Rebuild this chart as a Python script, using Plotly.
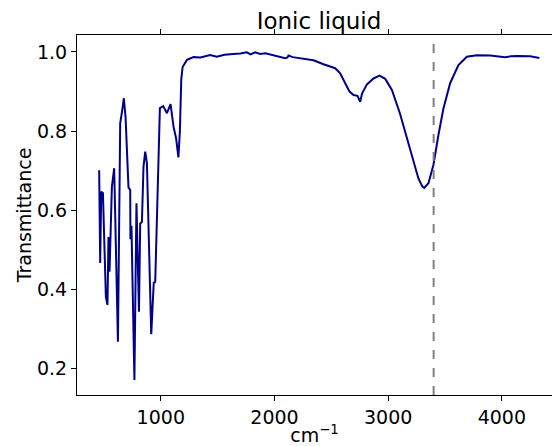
import plotly.graph_objects as go

wavenumber = [458, 467, 476, 491, 517, 531, 540, 549, 570, 590, 623, 643, 661, 675, 690,
              716, 731, 733, 742, 768, 786, 808, 819, 834, 848, 863, 878, 916, 938, 951,
              992, 1021, 1054, 1086, 1112, 1135, 1155, 1168, 1180, 1192, 1230, 1288, 1347,
              1434, 1493, 1560, 1639, 1700, 1757, 1790, 1830, 1874, 1920, 1962, 2050, 2094,
              2114, 2123, 2160, 2226, 2343, 2431, 2534, 2578, 2600, 2622, 2660, 2695, 2730,
              2754, 2770, 2813, 2871, 2924, 2974, 3033, 3105, 3164, 3222, 3266, 3300, 3317,
              3354, 3398, 3442, 3486, 3545, 3618, 3692, 3780, 3897, 3950, 4029, 4080, 4132,
              4249, 4330]
transmittance = [0.701, 0.466, 0.646, 0.643, 0.380, 0.360, 0.532, 0.444, 0.659, 0.706,
                 0.267, 0.820, 0.853, 0.883, 0.836, 0.657, 0.651, 0.526, 0.560, 0.170,
                 0.617, 0.343, 0.566, 0.570, 0.710, 0.748, 0.718, 0.286, 0.416, 0.418,
                 0.858, 0.863, 0.845, 0.868, 0.811, 0.781, 0.733, 0.800, 0.930, 0.962,
                 0.980, 0.987, 0.986, 0.992, 0.988, 0.993, 0.995, 0.996, 0.999, 0.994,
                 0.999, 0.995, 0.997, 0.994, 0.988, 0.984, 0.986, 0.991, 0.987, 0.984,
                 0.979, 0.969, 0.959, 0.946, 0.935, 0.921, 0.900, 0.891, 0.889, 0.874,
                 0.895, 0.918, 0.933, 0.940, 0.932, 0.904, 0.843, 0.782, 0.727, 0.680,
                 0.660, 0.656, 0.668, 0.714, 0.790, 0.857, 0.921, 0.967, 0.988, 0.992,
                 0.991, 0.990, 0.987, 0.989, 0.990, 0.989, 0.985]
marker_line = 3400
title_text = "Ionic liquid"
x_ticks = [1000, 2000, 3000, 4000]
y_ticks = [0.2, 0.4, 0.6, 0.8, 1.0]

FONT = "DejaVu Sans"
FS = 19
TFS = 23

fig = go.Figure()
fig.add_trace(go.Scatter(x=wavenumber, y=transmittance, mode="lines",
                         line=dict(color="#00008b", width=2), showlegend=False))
fig.add_shape(type="line", x0=marker_line, x1=marker_line, xref="x", yref="paper",
              y0=0, y1=1, line=dict(color="gray", width=2, dash="dash"))

fig.update_layout(
    width=552, height=446,
    margin=dict(l=77, r=0, t=35, b=51),
    paper_bgcolor="white", plot_bgcolor="white",
    font=dict(family=FONT, size=FS, color="black"),
    title=dict(text=title_text, x=319 / 552, xref="container", xanchor="center",
               y=1 - 21 / 446, yref="container", yanchor="middle",
               font=dict(family=FONT, size=TFS, color="black")),
)
fig.update_xaxes(range=[263, 4441], tickvals=x_ticks, ticktext=[str(v) for v in x_ticks],
                 showline=True, linecolor="black", linewidth=1, mirror="ticks",
                 ticks="outside", ticklen=5, tickwidth=1, tickcolor="black",
                 showgrid=False, zeroline=False,
                 tickfont=dict(family=FONT, size=FS),
                 title=dict(text="cm<sup>−1</sup>", standoff=2,
                            font=dict(family=FONT, size=FS)))
fig.update_yaxes(range=[0.132, 1.043], tickvals=y_ticks, ticktext=[f"{v:.1f}" for v in y_ticks],
                 showline=True, linecolor="black", linewidth=1, mirror=False,
                 ticks="outside", ticklen=5, tickwidth=1, tickcolor="black",
                 showgrid=False, zeroline=False,
                 tickfont=dict(family=FONT, size=FS),
                 title=dict(text="Transmittance", standoff=0,
                            font=dict(family=FONT, size=FS)))

fig.write_html("out.html")
